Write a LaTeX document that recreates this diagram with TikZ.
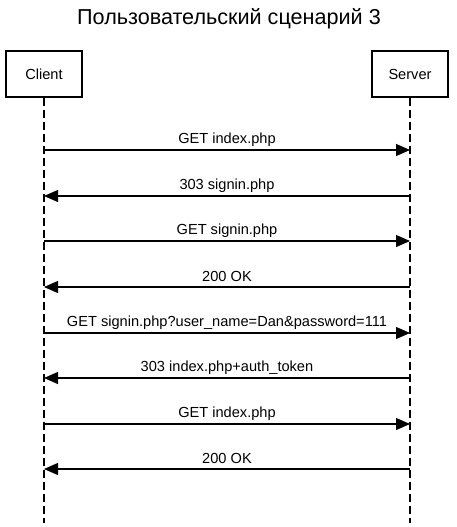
\documentclass[tikz,border=0pt]{standalone}
\usepackage{fontspec}
\setmainfont{Liberation Sans}
\usetikzlibrary{arrows.meta}
\begin{document}
\begin{tikzpicture}[x=1pt,y=-1pt,
  actor/.style={draw,line width=2.2pt,minimum width=76pt,minimum height=46pt,inner sep=0pt,font=\fontsize{14.6}{17}\selectfont},
  life/.style={line width=1.2pt,dash pattern=on 8pt off 4pt},
  msg/.style={line width=1.2pt,-{Triangle[length=14pt,width=12pt]}},
  lbl/.style={font=\fontsize{14.6}{17}\selectfont,inner sep=0pt}]
\useasboundingbox (0,0) rectangle (457,527);
\node[font=\fontsize{21.6}{25}\selectfont] (title) at (229,19) {Пользовательский сценарий 3};
\node[actor] (client) at (44,74) {Client};
\node[actor] (server) at (410,74) {Server};
\coordinate (cend) at (44,523);
\coordinate (send) at (410,523);
\draw[life] (client.south) -- (cend);
\draw[life] (server.south) -- (send);
\foreach \i/\y in {1/150,2/196,3/241,4/287,5/333,6/378,7/424,8/469}{
  \coordinate (c\i) at (44,\y);
  \coordinate (s\i) at (410,\y);
}
\draw[msg] (c1) -- (s1) node[lbl,midway,yshift=10.5pt] (l1) {GET index.php};
\draw[msg] (s2) -- (c2) node[lbl,midway,yshift=10.5pt] (l2) {303 signin.php};
\draw[msg] (c3) -- (s3) node[lbl,midway,yshift=10.5pt] (l3) {GET signin.php};
\draw[msg] (s4) -- (c4) node[lbl,midway,yshift=10.5pt] (l4) {200 OK};
\draw[msg] (c5) -- (s5) node[lbl,midway,yshift=10.5pt] (l5) {GET signin.php?user\_name=Dan\&password=111};
\draw[msg] (s6) -- (c6) node[lbl,midway,yshift=10.5pt] (l6) {303 index.php+auth\_token};
\draw[msg] (c7) -- (s7) node[lbl,midway,yshift=10.5pt] (l7) {GET index.php};
\draw[msg] (s8) -- (c8) node[lbl,midway,yshift=10.5pt] (l8) {200 OK};
\end{tikzpicture}
\end{document}
